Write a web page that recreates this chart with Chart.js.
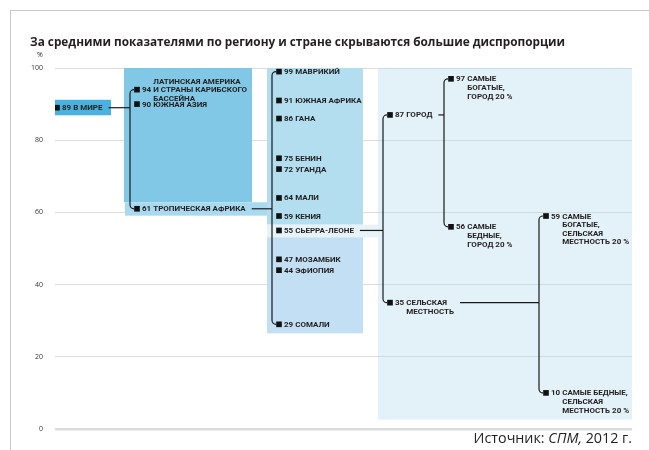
<!DOCTYPE html>
<html>
<head>
<meta charset="utf-8">
<script src="https://cdn.jsdelivr.net/npm/chart.js@4/dist/chart.umd.min.js"></script>
<style>
    html, body { margin: 0; padding: 0; background: #fff; }
    #wrap { position: relative; width: 649px; height: 450px; overflow: hidden; font-family: "Open Sans", sans-serif; color: #231f20; }
    #frame { position: absolute; left: 10px; top: 10px; width: 700px; height: 500px; border-left: 1px solid #c8c8c8; border-top: 1px solid #c8c8c8; }
    #title { position: absolute; left: 30px; top: 33px; font-weight: 700; font-size: 11.8px; white-space: nowrap; }
    #unit { position: absolute; left: 37px; top: 50px; font-size: 7px; }
    #source { position: absolute; right: 17px; top: 428px; font-size: 14.3px; white-space: nowrap; }
    canvas { position: absolute; left: 0; top: 0; }
</style>
</head>
<body>
<div id="wrap">
    <div id="frame"></div>
    <canvas id="chart" width="649" height="450"></canvas>
    <div id="title">За средними показателями по региону и стране скрываются большие диспропорции</div>
    <div id="unit">%</div>
    <div id="source">Источник: <i>СПМ,</i> 2012 г.</div>
</div>
<script>
(function () {
    "use strict";

    // --- data ---
    var yTicks = [0, 20, 40, 60, 80, 100];

    var worldValues = [89];
    var worldLabels = [["В МИРЕ"]];

    var regionValues = [94, 90, 61];
    var regionLabels = [
        ["ЛАТИНСКАЯ АМЕРИКА", "И СТРАНЫ КАРИБСКОГО", "БАССЕЙНА"],
        ["ЮЖНАЯ АЗИЯ"],
        ["ТРОПИЧЕСКАЯ АФРИКА"]
    ];

    var countryValues = [99, 91, 86, 75, 72, 64, 59, 55, 47, 44, 29];
    var countryLabels = [
        ["МАВРИКИЙ"], ["ЮЖНАЯ АФРИКА"], ["ГАНА"], ["БЕНИН"], ["УГАНДА"], ["МАЛИ"],
        ["КЕНИЯ"], ["СЬЕРРА-ЛЕОНЕ"], ["МОЗАМБИК"], ["ЭФИОПИЯ"], ["СОМАЛИ"]
    ];

    var areaValues = [87, 35];
    var areaLabels = [["ГОРОД"], ["СЕЛЬСКАЯ", "МЕСТНОСТЬ"]];

    var urbanValues = [97, 56];
    var urbanLabels = [
        ["САМЫЕ", "БОГАТЫЕ,", "ГОРОД 20 %"],
        ["САМЫЕ", "БЕДНЫЕ,", "ГОРОД 20 %"]
    ];

    var ruralValues = [59, 10];
    var ruralLabels = [
        ["САМЫЕ", "БОГАТЫЕ,", "СЕЛЬСКАЯ", "МЕСТНОСТЬ 20 %"],
        ["САМЫЕ БЕДНЫЕ,", "СЕЛЬСКАЯ", "МЕСТНОСТЬ 20 %"]
    ];

    // --- layout: column positions on the x scale (0..577 = plot width) ---
    var columnX = [2, 82, 224, 335, 396, 491];
    var labelFont = "bold 8px Roboto, 'Open Sans', sans-serif";
    var lineHeight = 8.6;

    var levels = [
        { values: worldValues, labels: worldLabels, col: 0 },
        { values: regionValues, labels: regionLabels, col: 1, anchorLine: [1, 0, 0] },
        { values: countryValues, labels: countryLabels, col: 2 },
        { values: areaValues, labels: areaLabels, col: 3 },
        { values: urbanValues, labels: urbanLabels, col: 4 },
        { values: ruralValues, labels: ruralLabels, col: 5 }
    ];

    // parent node -> child level (bracket spans first..last child)
    var links = [
        { level: 0, index: 0, child: 1 },
        { level: 1, index: 2, child: 2 },
        { level: 2, index: 7, child: 3 },
        { level: 3, index: 0, child: 4 },
        { level: 3, index: 1, child: 5 }
    ];

    // background panels, x in column units, y in % units
    var panels = [
        { x0: 0, x1: 56, y0: 91.2, y1: 86.9, color: "#4ab2de" },
        { x0: 69, x1: 197, y0: 100, y1: 62.8, color: "#80c8e6" },
        { x0: 70, x1: 213, y0: 62.8, y1: 59.1, color: "#a8d9ef" },
        { x0: 212, x1: 308, y0: 100, y1: 56.6, color: "#b2def0" },
        { x0: 212, x1: 323, y0: 56.6, y1: 53.1, color: "#e7f3f9" },
        { x0: 212, x1: 308, y0: 53.1, y1: 26.5, color: "#c3dff3" },
        { x0: 323, x1: 577, y0: 100, y1: 2.6, color: "rgba(176, 215, 236, 0.35)" }
    ];

    function anchorOf(level, i) {
        return level.anchorLine ? level.anchorLine[i] : 0;
    }

    function labelRightEdge(ctx, level, i, px) {
        ctx.font = labelFont;
        var numW = ctx.measureText(level.values[i] + " ").width;
        var maxW = 0;
        level.labels[i].forEach(function (t) {
            maxW = Math.max(maxW, ctx.measureText(t).width);
        });
        return px + 5 + numW + maxW;
    }

    var panelPlugin = {
        id: "panels",
        beforeDatasetsDraw: function (chart) {
            var ctx = chart.ctx;
            var xs = chart.scales.x, ys = chart.scales.y;
            ctx.save();
            panels.forEach(function (p) {
                var x0 = xs.getPixelForValue(p.x0), x1 = xs.getPixelForValue(p.x1);
                var y0 = ys.getPixelForValue(p.y0), y1 = ys.getPixelForValue(p.y1);
                ctx.fillStyle = p.color;
                ctx.fillRect(x0, y0, x1 - x0, y1 - y0);
            });

            // tree connectors
            ctx.strokeStyle = "#1a1a1a";
            ctx.lineWidth = 1.2;
            var r = 4;
            links.forEach(function (l) {
                var parent = levels[l.level];
                var kids = levels[l.child];
                var ppx = xs.getPixelForValue(columnX[parent.col]);
                var ppy = ys.getPixelForValue(parent.values[l.index]);
                var cx = xs.getPixelForValue(columnX[kids.col]);
                var xv = cx - 7;
                var yTop = ys.getPixelForValue(kids.values[0]);
                var yBot = ys.getPixelForValue(kids.values[kids.values.length - 1]);
                var xStart = labelRightEdge(ctx, parent, l.index, ppx) + 6;

                ctx.beginPath();
                ctx.moveTo(xStart, ppy);
                ctx.lineTo(xv, ppy);
                ctx.stroke();

                ctx.beginPath();
                ctx.moveTo(cx - 3, yTop);
                ctx.arcTo(xv, yTop, xv, yTop + r, r);
                ctx.lineTo(xv, yBot - r);
                ctx.arcTo(xv, yBot, xv + r, yBot, r);
                ctx.lineTo(cx - 3, yBot);
                ctx.stroke();
            });
            ctx.restore();
        }
    };

    var labelPlugin = {
        id: "nodeLabels",
        afterDatasetsDraw: function (chart) {
            var ctx = chart.ctx;
            var xs = chart.scales.x, ys = chart.scales.y;
            ctx.save();
            ctx.font = labelFont;
            ctx.fillStyle = "#231f20";
            ctx.textBaseline = "middle";
            ctx.textAlign = "left";
            levels.forEach(function (level) {
                var px = xs.getPixelForValue(columnX[level.col]);
                level.values.forEach(function (v, i) {
                    var py = ys.getPixelForValue(v);
                    var tx = px + 5;
                    var num = v + " ";
                    var bx = tx + ctx.measureText(num).width;
                    var a = anchorOf(level, i);
                    ctx.fillText(v, tx, py + 0.5);
                    level.labels[i].forEach(function (t, j) {
                        ctx.fillText(t, bx, py + 0.5 + (j - a) * lineHeight);
                    });
                });
            });
            ctx.restore();
        }
    };

    var datasets = levels.map(function (level) {
        return {
            data: level.values.map(function (v) { return { x: columnX[level.col], y: v }; }),
            pointStyle: "rect",
            pointRadius: 4,
            pointBackgroundColor: "#111",
            pointBorderWidth: 0,
            showLine: false
        };
    });

    new Chart(document.getElementById("chart").getContext("2d"), {
        type: "scatter",
        data: { datasets: datasets },
        options: {
            responsive: false,
            animation: false,
            events: [],
            layout: { padding: { left: 0, top: 68, right: 17, bottom: 21 } },
            plugins: { legend: { display: false }, tooltip: { enabled: false } },
            scales: {
                x: { type: "linear", display: false, min: 0, max: 577 },
                y: {
                    min: 0,
                    max: 100,
                    afterBuildTicks: function (s) {
                        s.ticks = yTicks.map(function (t) { return { value: t }; });
                    },
                    afterFit: function (s) { s.width = 55; },
                    border: { display: false },
                    grid: {
                        color: "#dcdcdc",
                        drawTicks: false,
                        lineWidth: function (c) { return c.tick && c.tick.value === 0 ? 2.5 : 1; }
                    },
                    ticks: {
                        padding: 12,
                        color: "#333",
                        font: { family: "'Open Sans', sans-serif", size: 7 }
                    }
                }
            }
        },
        plugins: [panelPlugin, labelPlugin]
    });
})();
</script>
</body>
</html>
